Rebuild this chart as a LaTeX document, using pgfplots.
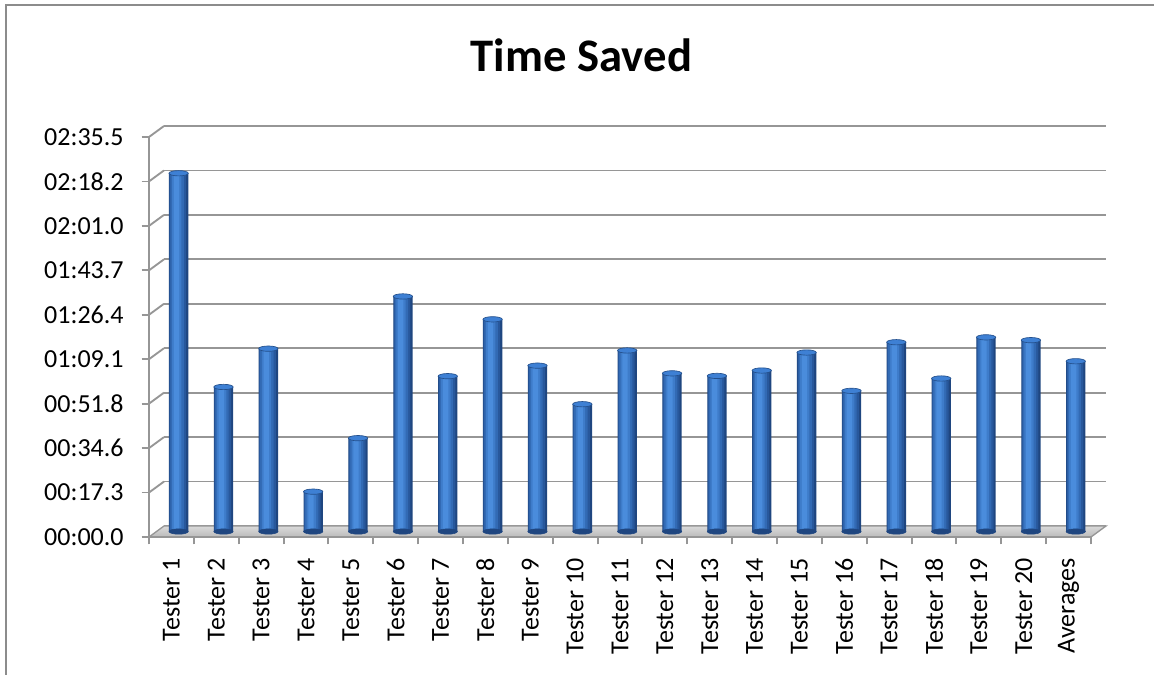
\documentclass[border=0pt]{standalone}
\usepackage{pgfplots}
\pgfplotsset{compat=1.18}
\usepackage{pgfplotstable}
\usepackage{fontspec}
\setmainfont{Carlito}
\definecolor{gridgray}{RGB}{150,150,150}
\definecolor{bordergray}{RGB}{140,140,140}
\definecolor{barA}{RGB}{31,70,128}
\definecolor{barB}{RGB}{40,88,156}
\definecolor{barC}{RGB}{50,106,180}
\definecolor{barD}{RGB}{62,124,202}
\definecolor{barE}{RGB}{74,140,220}
\definecolor{bartop}{RGB}{62,128,212}
\definecolor{barline}{RGB}{36,80,140}
\definecolor{floorgray}{RGB}{202,202,202}

\pgfplotstableread{
x y
0 139.3
1 56.2
2 71.1
3 15.5
4 36.3
5 91.4
6 60.4
7 82.5
8 64.5
9 49.5
10 70.4
11 61.5
12 60.5
13 62.6
14 69.6
15 54.7
16 73.6
17 59.5
18 75.5
19 74.4
20 66.2
}\datatable

\pgfdeclareplotmark{cyltop}{%
  \pgfpathellipse{\pgfpointorigin}{\pgfqpoint{7.25pt}{0pt}}{\pgfqpoint{0pt}{2pt}}%
  \pgfusepathqfillstroke}

\pgfplotsset{base/.style={scale only axis, width=706.5pt, height=300pt,
  xmin=-0.5, xmax=20.5, ymin=0, ymax=155.52, anchor=south west, clip=false}}

\begin{document}
\begin{tikzpicture}
\useasboundingbox (0,0) rectangle (865.5pt,506.25pt);
% chart border (left and top only visible)
\draw[bordergray, line width=1.5pt] (4.5pt,-1pt) -- (4.5pt,502.5pt) -- (866pt,502.5pt);
% title
\node[font=\fontsize{35}{40}\selectfont\bfseries, anchor=base] at (436.1pt,452.5pt) {Time Saved};

% back wall gridlines
\begin{axis}[base, at={(123pt,111.75pt)},
  ytick={0,17.28,34.56,51.84,69.12,86.4,103.68,120.96,138.24,155.52},
  yticklabels={}, xtick=\empty, ymajorgrids,
  grid style={gridgray, line width=1.4pt},
  axis line style={draw=none}, major tick length=0pt]
\addplot[draw=none] coordinates {(0,0)};
\end{axis}

% floor
\shade[bottom color=floorgray!80!gray, top color=floorgray!70!white] (111.75pt,103.5pt) -- (818.25pt,103.5pt) -- (829.5pt,111.75pt) -- (123pt,111.75pt) -- cycle;
\draw[gridgray, line width=1pt] (111.75pt,103.5pt) -- (818.25pt,103.5pt) -- (829.5pt,111.75pt) -- (123pt,111.75pt) -- cycle;
% side stubs
\foreach \v in {1,2,3,4,5,6,7,8,9}{
  \pgfmathsetmacro{\yy}{103.5+\v*33.3333}
  \draw[gridgray, line width=1.4pt] (111.75pt,\yy pt) -- ++(11.25pt,8.25pt);
}

% front axis with ticks and labels
\begin{axis}[base, at={(111.75pt,103.5pt)},
  axis x line*=bottom, axis y line*=left,
  axis line style={gridgray, line width=1.4pt, -},
  tick style={gridgray, line width=1.4pt},
  tick align=outside,
  ytick={0,17.28,34.56,51.84,69.12,86.4,103.68,120.96,138.24,155.52},
  yticklabels={00:00.0,00:17.3,00:34.6,00:51.8,01:09.1,01:26.4,01:43.7,02:01.0,02:18.2,02:35.5},
  yticklabel style={font=\fontsize{19.5}{23}\selectfont, xshift=-10pt},
  major tick length=5.5pt,
  xtick={-0.5,0.5,...,20.5},
  x tick label as interval,
  xticklabels={Tester 1,Tester 2,Tester 3,Tester 4,Tester 5,Tester 6,Tester 7,Tester 8,Tester 9,Tester 10,Tester 11,Tester 12,Tester 13,Tester 14,Tester 15,Tester 16,Tester 17,Tester 18,Tester 19,Tester 20,Averages},
  xticklabel style={font=\fontsize{19.5}{23}\selectfont, rotate=90, anchor=east, xshift=-7pt}]
\addplot[draw=none] coordinates {(0,0)};
\end{axis}

% bars (middle depth), layered to imitate the cylinder shading
\begin{axis}[base, at={(117.15pt,107.6pt)}, hide axis]
\addplot[only marks, mark=cyltop, mark options={fill=barA, draw=barA}] table[x=x, y expr=0] {\datatable};
\addplot[ybar, bar width=14.5pt, bar shift=0pt, draw=none, fill=barA] table[x=x, y=y] {\datatable};
\addplot[ybar, bar width=12.5pt, bar shift=-0.6pt, draw=none, fill=barB] table[x=x, y=y] {\datatable};
\addplot[ybar, bar width=10pt, bar shift=-1.1pt, draw=none, fill=barC] table[x=x, y=y] {\datatable};
\addplot[ybar, bar width=7pt, bar shift=-1.4pt, draw=none, fill=barD] table[x=x, y=y] {\datatable};
\addplot[ybar, bar width=4pt, bar shift=-1.6pt, draw=none, fill=barE] table[x=x, y=y] {\datatable};
\addplot[only marks, mark=cyltop, mark options={fill=bartop, draw=barline, line width=0.5pt}] table[x=x, y=y] {\datatable};
\end{axis}
\end{tikzpicture}
\end{document}
